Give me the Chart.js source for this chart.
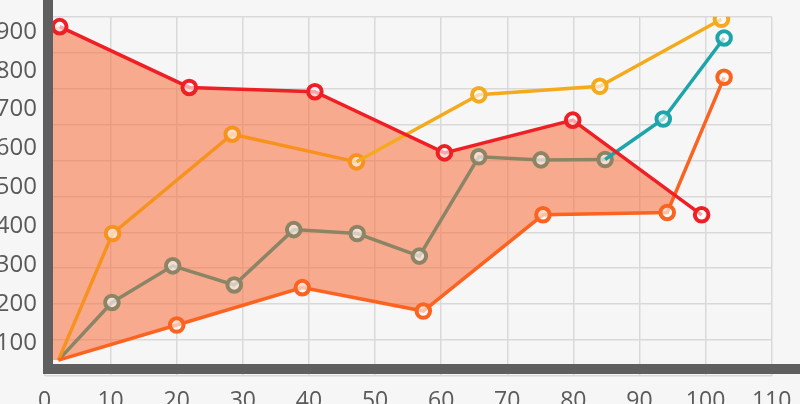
<!DOCTYPE html>
<html><head><meta charset="utf-8">
<script src="https://cdn.jsdelivr.net/npm/chart.js@4.4.1/dist/chart.umd.min.js"></script>
<style>html,body{margin:0;padding:0;background:#f6f6f6;overflow:hidden}#wrap{width:800px;height:404px;position:relative}</style>
</head><body><div id="wrap"><canvas id="c"></canvas></div>
<script>
// ---- data ----
const xTickLabels = [0, 10, 20, 30, 40, 50, 60, 70, 80, 90, 100, 110];
const yTickLabels = [100, 200, 300, 400, 500, 600, 700, 800, 900];

const redX = [2.3, 21.9, 40.9, 60.5, 79.9, 99.4];
const redY = [913, 757, 746, 589, 673, 430];

const orangeRedX = [2.1, 20.0, 39.0, 57.3, 75.4, 94.2, 102.8];
const orangeRedY = [57, 147, 243, 183, 430, 436, 783];

const orangeX = [2.1, 10.3, 28.4, 47.2];
const orangeY = [57, 382, 637, 566];

const yellowX = [47.2, 65.7, 84.0, 102.4];
const yellowY = [566, 738, 760, 932];

const oliveX = [2.1, 10.2, 19.4, 28.7, 37.7, 47.3, 56.7, 65.7, 75.1, 84.8];
const oliveY = [57, 205, 299, 250, 392, 382, 324, 579, 571, 572];

const tealX = [84.8, 93.6, 102.8];
const tealY = [572, 676, 884];

// band (shaded area) between red line and orange-red line, starting at the axis
const bandTopX = [0].concat(redX);
const bandTopY = [913].concat(redY);
const bandBottomX = [0].concat(orangeRedX);
const bandBottomY = [57].concat(orangeRedY);

const zip = (xs, ys) => xs.map((x, i) => ({x: x, y: ys[i]}));

const FONT = "'Open Sans', 'Noto Sans', sans-serif";
const TXT = '#5a5a5a';
const GRID = '#d9d9d9';

function lineDs(data, color, order, firstMarker) {
  return {
    data: data,
    borderColor: color,
    borderWidth: 3.5,
    tension: 0,
    fill: false,
    order: order,
    pointBorderColor: color,
    pointBackgroundColor: 'rgba(255,255,255,0.6)',
    pointBorderWidth: 4,
    pointRadius: (ctx) => (ctx.dataIndex === 0 && !firstMarker) ? 0 : 6.8,
    yAxisID: 'y'
  };
}

function noPad(s) { s.paddingTop = 0; s.paddingBottom = 0; s.paddingLeft = 0; s.paddingRight = 0; }

const axisBars = {
  id: 'axisBars',
  afterDatasetsDraw(chart) {
    const {ctx, chartArea: a} = chart;
    ctx.save();
    ctx.fillStyle = '#5f5f5f';
    ctx.fillRect(a.left - 1.5, 0, 10, a.bottom - 2);
    ctx.fillRect(a.left - 1.5, a.bottom - 12, chart.width - a.left + 1.5, 10);
    ctx.restore();
  }
};

new Chart(document.getElementById('c'), {
  type: 'line',
  data: {
    datasets: [
      {
        data: zip(bandTopX, bandTopY), borderWidth: 0, pointRadius: 0, tension: 0, order: 20,
        borderColor: 'rgba(0,0,0,0)',
        fill: {target: 1, above: 'rgba(250,110,60,0.56)', below: 'rgba(0,0,0,0)'}, yAxisID: 'y'
      },
      {
        data: zip(bandBottomX, bandBottomY), borderWidth: 0, pointRadius: 0, tension: 0, order: 21,
        borderColor: 'rgba(0,0,0,0)', fill: false, yAxisID: 'y'
      },
      lineDs(zip(oliveX, oliveY), '#8b8566', 6, false),
      lineDs(zip(tealX, tealY), '#1ea5aa', 5, false),
      lineDs(zip(orangeX, orangeY), '#f7921e', 4, false),
      lineDs(zip(yellowX, yellowY), '#f3ab1d', 3, false),
      lineDs(zip(orangeRedX, orangeRedY), '#fb6320', 2, false),
      lineDs(zip(redX, redY), '#ee1f25', 1, true)
    ]
  },
  options: {
    responsive: true,
    maintainAspectRatio: false,
    animation: false,
    events: [],
    layout: {padding: {top: 16.7, right: 28.3, left: 0, bottom: 0}},
    plugins: {legend: {display: false}, tooltip: {enabled: false}},
    scales: {
      x: {
        type: 'linear', min: 0, max: 110,
        afterBuildTicks(s) { s.ticks = xTickLabels.map(v => ({value: v})); },
        ticks: {padding: 12, maxRotation: 0, autoSkip: false, color: TXT, font: {family: FONT, size: 23}},
        grid: {color: GRID, lineWidth: 1.5, drawTicks: false},
        border: {display: false},
        afterFit(s) { s.height = 28; noPad(s); }
      },
      y: {
        type: 'linear', position: 'left', min: 16.2, max: 938.6,
        afterBuildTicks(s) { s.ticks = yTickLabels.map(v => ({value: v})); },
        ticks: {padding: 7.5, color: TXT, font: {family: FONT, size: 24}},
        grid: {display: false, drawTicks: false},
        border: {display: false},
        afterFit(s) { s.width = 44.5; noPad(s); }
      },
      yg: {
        type: 'linear', position: 'left', min: 0, max: 10,
        ticks: {display: false, stepSize: 1},
        grid: {color: GRID, lineWidth: 1.5, drawTicks: false},
        border: {display: false},
        afterFit(s) { s.width = 0; noPad(s); }
      }
    }
  },
  plugins: [axisBars]
});
</script>
</body></html>
